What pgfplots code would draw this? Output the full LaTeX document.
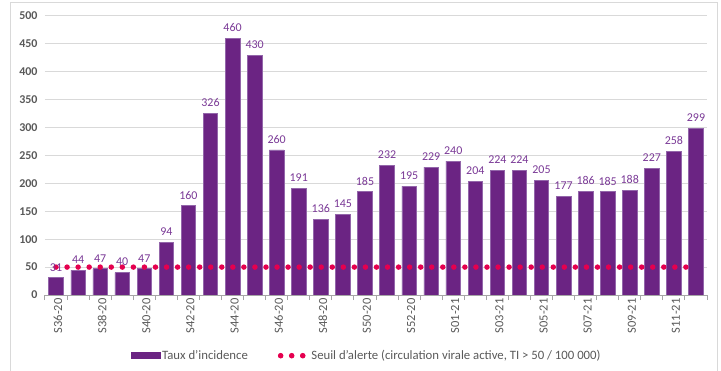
\documentclass[border=0pt]{standalone}
\usepackage{pgfplots}
\pgfplotsset{compat=1.18}
\usepackage{pgfplotstable}
\usepackage{fontspec}
\setmainfont{Carlito}
\definecolor{barpurple}{HTML}{6B2483}
\definecolor{baredge}{HTML}{9366AA}
\definecolor{lblpurple}{HTML}{7A3996}
\definecolor{dotred}{HTML}{E5004F}
\definecolor{txtgray}{HTML}{595959}
\definecolor{gridgray}{HTML}{D9D9D9}
\definecolor{axisgray}{HTML}{A6A6A6}
\definecolor{framegray}{HTML}{D9D9D9}

\pgfplotstableread{
x val thr
0 31 50
1 44 50
2 47 50
3 40 50
4 47 50
5 94 50
6 160 50
7 326 50
8 460 50
9 430 50
10 260 50
11 191 50
12 136 50
13 145 50
14 185 50
15 232 50
16 195 50
17 229 50
18 240 50
19 204 50
20 224 50
21 224 50
22 205 50
23 177 50
24 186 50
25 185 50
26 188 50
27 227 50
28 258 50
29 299 50
}\datatable

\begin{document}
\begin{tikzpicture}
\useasboundingbox (-45bp,-76bp) rectangle (676bp,295bp);
\draw[framegray, line width=1bp] (-34bp,-80bp) -- (-34bp,292bp) -- (672bp,292bp) -- (672bp,-80bp);
\begin{axis}[
  at={(0bp,0bp)}, anchor=south west,
  scale only axis, width=662bp, height=279bp,
  xmin=-0.5, xmax=29.5, ymin=0, ymax=500,
  /pgf/number format/assume math mode=true,
  axis lines*=left,
  x axis line style={axisgray, line width=1bp},
  y axis line style={draw=none},
  ytick={0,50,...,500},
  ymajorgrids, grid style={gridgray, line width=1bp},
  y tick style={draw=none},
  xtick={0,2,...,28},
  xticklabels={S36-20,S38-20,S40-20,S42-20,S44-20,S46-20,S48-20,S50-20,S52-20,S01-21,S03-21,S05-21,S07-21,S09-21,S11-21},
  minor xtick={-0.5,0.5,...,29.5},
  major x tick style={draw=none},
  minor x tick style={axisgray, line width=1bp},
  tick align=outside,
  minor tick length=5bp,
  major tick length=0bp,
  xticklabel style={rotate=90, anchor=east, font=\fontsize{12.5}{13}\selectfont, text=txtgray, yshift=-2bp},
  yticklabel style={font=\bfseries\fontsize{12}{13}\selectfont, text=txtgray, xshift=-4bp},
  legend style={at={(0.4857,-0.2176)}, anchor=center, draw=none, fill=none,
    legend columns=2, font=\fontsize{12.8}{13}\selectfont, text=txtgray,
    /tikz/every even column/.append style={column sep=28bp}},
]
\addplot[ybar, bar width=0.66, fill=barpurple, draw=baredge, line width=0.6bp,
  nodes near coords,
  every node near coord/.append style={font=\fontsize{12}{12}\selectfont, text=lblpurple, yshift=3bp},
  legend image code/.code={\fill[barpurple] (0bp,-3bp) rectangle (29bp,3bp);}]
  table[x=x,y=val]{\datatable};
\addlegendentry{Taux d'incidence}
\addplot[dotred, line width=5.5bp, line cap=round, dash pattern=on 0bp off 11.05bp,
  legend image code/.code={\draw[dotred, line width=5bp, line cap=round, dash pattern=on 0bp off 11bp] (0bp,0bp) -- (22.5bp,0bp); \path (0bp,0bp) -- (26bp,0bp);}]
  table[x=x,y=thr]{\datatable};
\addlegendentry{Seuil d'alerte (circulation virale active, TI > 50 / 100 000)}
\end{axis}
\end{tikzpicture}
\end{document}
